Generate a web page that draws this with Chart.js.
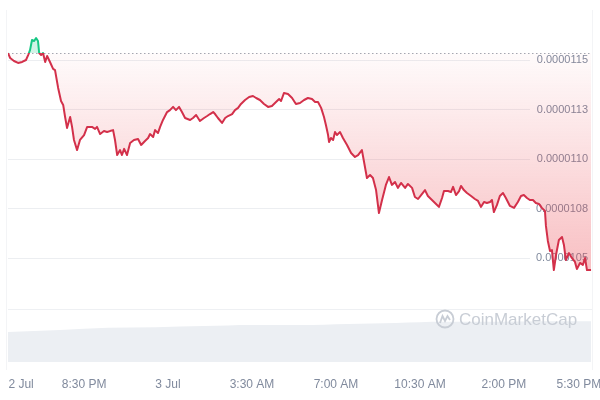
<!DOCTYPE html>
<html>
<head>
<meta charset="utf-8">
<script src="https://cdn.jsdelivr.net/npm/chart.js@4.4.1/dist/chart.umd.min.js"></script>
<style>
  html, body { margin: 0; padding: 0; background: #fff; }
</style>
</head>
<body>
<canvas id="priceChart" width="600" height="400"></canvas>
<script>
// --- data ---
// hours since 5:30 PM, 2 Jul
const timeHours = [
  -0.17, -0.08, 0.08, 0.25, 0.42, 0.58, 0.67, 0.75, 0.83, 0.92,
  1.00, 1.08, 1.13, 1.21, 1.29, 1.38, 1.46, 1.58, 1.71, 1.79,
  1.92, 2.04, 2.13, 2.21, 2.29, 2.42, 2.50, 2.58, 2.71, 2.83,
  3.00, 3.13, 3.33, 3.46, 3.54, 3.67, 3.83, 3.96, 4.08, 4.21,
  4.29, 4.38, 4.50, 4.58, 4.67, 4.79, 4.92, 5.08, 5.25, 5.38,
  5.54, 5.67, 5.75, 5.88, 5.96, 6.08, 6.17, 6.29, 6.46, 6.58,
  6.71, 6.83, 6.96, 7.08, 7.21, 7.42, 7.54, 7.67, 7.83, 8.00,
  8.13, 8.25, 8.38, 8.46, 8.58, 8.75, 8.88, 9.00, 9.17, 9.29,
  9.42, 9.54, 9.71, 9.88, 10.04, 10.17, 10.33, 10.50, 10.67, 10.83,
  11.00, 11.13, 11.21, 11.33, 11.50, 11.67, 11.83, 12.00, 12.17, 12.33,
  12.50, 12.63, 12.75, 12.88, 13.00, 13.08, 13.17, 13.21, 13.29, 13.38,
  13.46, 13.54, 13.67, 13.79, 13.96, 14.13, 14.29, 14.42, 14.58, 14.67,
  14.79, 14.92, 15.04, 15.17, 15.29, 15.42, 15.58, 15.71, 15.83, 15.96,
  16.08, 16.21, 16.38, 16.50, 16.67, 16.79, 16.92, 17.08, 17.21, 17.33,
  17.50, 17.67, 17.79, 17.92, 18.00, 18.17, 18.29, 18.38, 18.50, 18.63,
  18.71, 18.83, 18.96, 19.13, 19.29, 19.42, 19.54, 19.67, 19.79, 19.92,
  20.00, 20.08, 20.21, 20.33, 20.46, 20.58, 20.75, 20.92, 21.08, 21.21,
  21.33, 21.46, 21.58, 21.71, 21.83, 21.96, 22.08, 22.21, 22.25, 22.33,
  22.42, 22.50, 22.58, 22.67, 22.79, 22.92, 23.00, 23.08, 23.21, 23.33,
  23.46, 23.54, 23.67, 23.79, 23.88, 23.96, 24.13
];

const priceValues = [
  1.1535e-5, 1.1510e-5, 1.1495e-5, 1.1485e-5, 1.1490e-5, 1.1500e-5, 1.1525e-5, 1.1551e-5, 1.1601e-5, 1.1596e-5,
  1.1611e-5, 1.1596e-5, 1.1535e-5, 1.1525e-5, 1.1535e-5, 1.1490e-5, 1.1520e-5, 1.1490e-5, 1.1455e-5, 1.1449e-5,
  1.1359e-5, 1.1293e-5, 1.1273e-5, 1.1212e-5, 1.1157e-5, 1.1212e-5, 1.1162e-5, 1.1096e-5, 1.1045e-5, 1.1096e-5,
  1.1121e-5, 1.1162e-5, 1.1162e-5, 1.1152e-5, 1.1162e-5, 1.1126e-5, 1.1141e-5, 1.1136e-5, 1.1141e-5, 1.1146e-5,
  1.1096e-5, 1.1020e-5, 1.1045e-5, 1.1020e-5, 1.1051e-5, 1.1020e-5, 1.1081e-5, 1.1096e-5, 1.1101e-5, 1.1071e-5,
  1.1091e-5, 1.1106e-5, 1.1126e-5, 1.1111e-5, 1.1146e-5, 1.1131e-5, 1.1162e-5, 1.1197e-5, 1.1237e-5, 1.1247e-5,
  1.1263e-5, 1.1247e-5, 1.1263e-5, 1.1237e-5, 1.1207e-5, 1.1197e-5, 1.1207e-5, 1.1222e-5, 1.1192e-5, 1.1207e-5,
  1.1217e-5, 1.1227e-5, 1.1237e-5, 1.1227e-5, 1.1207e-5, 1.1182e-5, 1.1207e-5, 1.1217e-5, 1.1227e-5, 1.1247e-5,
  1.1258e-5, 1.1278e-5, 1.1298e-5, 1.1313e-5, 1.1318e-5, 1.1308e-5, 1.1298e-5, 1.1278e-5, 1.1263e-5, 1.1268e-5,
  1.1288e-5, 1.1303e-5, 1.1293e-5, 1.1333e-5, 1.1328e-5, 1.1308e-5, 1.1278e-5, 1.1283e-5, 1.1298e-5, 1.1308e-5,
  1.1303e-5, 1.1288e-5, 1.1288e-5, 1.1258e-5, 1.1212e-5, 1.1172e-5, 1.1121e-5, 1.1086e-5, 1.1106e-5, 1.1096e-5,
  1.1136e-5, 1.1121e-5, 1.1136e-5, 1.1106e-5, 1.1071e-5, 1.1030e-5, 1.1010e-5, 1.1020e-5, 1.1045e-5, 1.0985e-5,
  1.0904e-5, 1.0919e-5, 1.0904e-5, 1.0843e-5, 1.0727e-5, 1.0793e-5, 1.0869e-5, 1.0909e-5, 1.0869e-5, 1.0884e-5,
  1.0854e-5, 1.0879e-5, 1.0854e-5, 1.0874e-5, 1.0854e-5, 1.0808e-5, 1.0798e-5, 1.0823e-5, 1.0843e-5, 1.0813e-5,
  1.0793e-5, 1.0773e-5, 1.0758e-5, 1.0803e-5, 1.0838e-5, 1.0838e-5, 1.0833e-5, 1.0859e-5, 1.0818e-5, 1.0838e-5,
  1.0864e-5, 1.0843e-5, 1.0828e-5, 1.0813e-5, 1.0798e-5, 1.0788e-5, 1.0758e-5, 1.0783e-5, 1.0778e-5, 1.0783e-5,
  1.0793e-5, 1.0732e-5, 1.0768e-5, 1.0813e-5, 1.0828e-5, 1.0803e-5, 1.0763e-5, 1.0753e-5, 1.0783e-5, 1.0813e-5,
  1.0818e-5, 1.0803e-5, 1.0793e-5, 1.0793e-5, 1.0778e-5, 1.0773e-5, 1.0753e-5, 1.0737e-5, 1.0662e-5, 1.0586e-5,
  1.0535e-5, 1.0540e-5, 1.0439e-5, 1.0515e-5, 1.0591e-5, 1.0606e-5, 1.0566e-5, 1.0490e-5, 1.0525e-5, 1.0500e-5,
  1.0480e-5, 1.0444e-5, 1.0475e-5, 1.0465e-5, 1.0500e-5, 1.0439e-5, 1.0439e-5
];

// volume strip at the bottom (no scale shown, arbitrary units)
const volumeHours = [-0.17, 2, 4, 6, 8, 10, 12, 14, 16, 18, 20, 22, 24.13];
const volumeValues = [8.5, 9.1, 9.7, 9.9, 10.2, 10.5, 10.5, 10.8, 11.1, 11.4, 11.4, 11.6, 11.6];

const xTickHours = [0.375, 3, 6.5, 10, 13.5, 17, 20.5, 23.625];
const xTickLabels = ['2 Jul', '8:30 PM', '3 Jul', '3:30 AM', '7:00 AM', '10:30 AM', '2:00 PM', '5:30 PM'];
const yTickValues = [1.05e-5, 1.075e-5, 1.1e-5, 1.125e-5, 1.15e-5];
const yTickLabels = ['0.0000105', '0.0000108', '0.0000110', '0.0000113', '0.0000115'];

const openPrice = priceValues[0];

const RED = '#d3304a';
const GREEN = '#16c784';
const LABEL_GREY = '#808a9d';

Chart.defaults.font.family = '"Liberation Sans", Arial, sans-serif';

// line colour: green above the opening price, red below
function strokeGradient(chart) {
  const area = chart.chartArea;
  const y = chart.scales.y;
  const g = chart.ctx.createLinearGradient(0, area.top, 0, area.bottom);
  const f = Math.min(Math.max((y.getPixelForValue(openPrice) - area.top) / (area.bottom - area.top), 0), 1);
  g.addColorStop(0, GREEN);
  g.addColorStop(f, GREEN);
  g.addColorStop(f, RED);
  g.addColorStop(1, RED);
  return g;
}

// area between line and opening price
function fillGradient(chart) {
  const area = chart.chartArea;
  const y = chart.scales.y;
  const base = y.getPixelForValue(openPrice);
  const low = y.getPixelForValue(Math.min(...priceValues));
  const g = chart.ctx.createLinearGradient(0, area.top, 0, area.bottom);
  const span = area.bottom - area.top;
  const fb = (base - area.top) / span;
  const fl = (low - area.top) / span;
  g.addColorStop(0, 'rgba(22, 199, 132, 0.2)');
  g.addColorStop(fb, 'rgba(22, 199, 132, 0.2)');
  g.addColorStop(fb, 'rgba(234, 57, 67, 0.02)');
  g.addColorStop(fl, 'rgba(234, 57, 67, 0.32)');
  g.addColorStop(1, 'rgba(234, 57, 67, 0.32)');
  return g;
}

const guides = {
  id: 'guides',
  beforeDatasetsDraw(chart) {
    const {ctx, chartArea: area, scales} = chart;
    ctx.save();
    // price grid lines stop short of the labels
    ctx.strokeStyle = '#eceef1';
    ctx.lineWidth = 1;
    yTickValues.forEach(v => {
      const py = Math.round(scales.y.getPixelForValue(v)) + 0.5;
      ctx.beginPath();
      ctx.moveTo(area.left, py);
      ctx.lineTo(area.right - 62, py);
      ctx.stroke();
    });
    // divider above the volume strip
    const dy = Math.round(scales.yVol.getPixelForValue(15)) + 0.5;
    ctx.strokeStyle = '#eef0f3';
    ctx.beginPath();
    ctx.moveTo(area.left, dy);
    ctx.lineTo(area.right, dy);
    ctx.stroke();
    // faint frame at both sides
    ctx.strokeStyle = '#f3f4f6';
    [area.left - 1.5, area.right + 0.5].forEach(px => {
      ctx.beginPath();
      ctx.moveTo(px, area.top);
      ctx.lineTo(px, area.bottom + 8);
      ctx.stroke();
    });
    // dotted opening price
    const by = Math.round(scales.y.getPixelForValue(openPrice)) + 0.5;
    ctx.strokeStyle = '#a3a9b3';
    ctx.setLineDash([1.5, 2.5]);
    ctx.beginPath();
    ctx.moveTo(area.left, by);
    ctx.lineTo(area.right, by);
    ctx.stroke();
    ctx.restore();
  },
  afterDatasetsDraw(chart) {
    const {ctx, chartArea: area} = chart;
    const cx = area.right - 147, cy = 319;
    ctx.save();
    ctx.strokeStyle = '#c8cdd5';
    ctx.lineWidth = 1.8;
    ctx.beginPath();
    ctx.arc(cx, cy, 8.5, 0, Math.PI * 2);
    ctx.stroke();
    ctx.beginPath();
    ctx.moveTo(cx - 5, cy + 4);
    ctx.lineTo(cx - 2.5, cy - 3);
    ctx.lineTo(cx, cy + 2);
    ctx.lineTo(cx + 2.5, cy - 3);
    ctx.lineTo(cx + 5, cy + 1);
    ctx.stroke();
    ctx.fillStyle = '#c8cdd5';
    ctx.font = '17px "Liberation Sans", Arial, sans-serif';
    ctx.textBaseline = 'middle';
    ctx.fillText('CoinMarketCap', cx + 14, cy + 1);
    ctx.restore();
  }
};

const ctx = document.getElementById('priceChart').getContext('2d');
new Chart(ctx, {
  type: 'line',
  data: {
    datasets: [{
      label: 'Price',
      data: timeHours.map((t, i) => ({x: t, y: priceValues[i]})),
      yAxisID: 'y',
      borderColor: c => c.chart.chartArea ? strokeGradient(c.chart) : RED,
      backgroundColor: c => c.chart.chartArea ? fillGradient(c.chart) : 'rgba(234, 57, 67, 0.1)',
      fill: {value: openPrice},
      borderWidth: 2,
      borderJoinStyle: 'round',
      pointRadius: 0,
      tension: 0
    }, {
      label: 'Volume',
      data: volumeHours.map((t, i) => ({x: t, y: volumeValues[i]})),
      yAxisID: 'yVol',
      borderWidth: 0,
      backgroundColor: '#eceff3',
      fill: 'origin',
      pointRadius: 0,
      cubicInterpolationMode: 'monotone'
    }]
  },
  options: {
    responsive: false,
    animation: false,
    layout: { padding: { top: 10, right: 8, bottom: 0, left: 8 } },
    plugins: {
      legend: { display: false },
      tooltip: { enabled: false }
    },
    scales: {
      x: {
        type: 'linear',
        min: -0.17,
        max: 24.17,
        afterBuildTicks: axis => { axis.ticks = xTickHours.map(v => ({value: v})); },
        afterFit: axis => { axis.height = 38; axis.paddingLeft = 0; axis.paddingRight = 0; },
        grid: { display: false, drawTicks: false },
        border: { display: false },
        ticks: {
          autoSkip: false,
          maxRotation: 0,
          padding: 15,
          color: LABEL_GREY,
          font: { size: 12 },
          callback: (v, i) => xTickLabels[i]
        }
      },
      y: {
        position: 'right',
        min: 9.9747e-6,
        max: 1.17525e-5,
        afterBuildTicks: axis => { axis.ticks = yTickValues.map(v => ({value: v})); },
        afterFit: axis => { axis.width = 0; axis.paddingTop = 0; axis.paddingBottom = 0; },
        grid: { display: false, drawTicks: false },
        border: { display: false },
        ticks: {
          mirror: true,
          crossAlign: 'near',
          padding: -4,
          color: LABEL_GREY,
          font: { size: 11 },
          callback: (v, i) => yTickLabels[i]
        }
      },
      yVol: {
        display: false,
        min: 0,
        max: 100
      }
    }
  },
  plugins: [guides]
});
</script>
</body>
</html>
